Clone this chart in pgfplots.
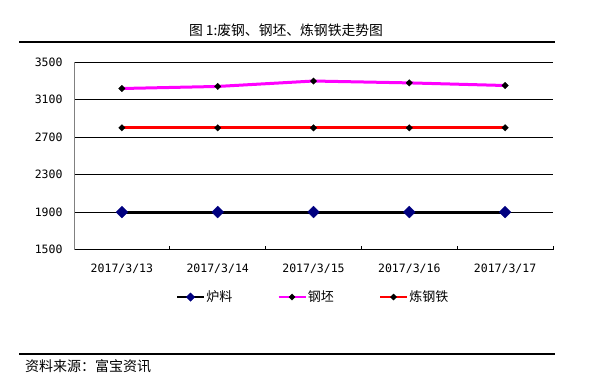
\documentclass[border=0pt]{standalone}
\usepackage{fontspec}
\usepackage{pgfplots}
\pgfplotsset{compat=1.18}
\setmainfont{DejaVu Sans Mono}
\newfontfamily\cjk{Noto Sans CJK SC}
\newfontfamily\mono{DejaVu Sans Mono}
\definecolor{navyd}{RGB}{0,0,128}
\definecolor{pinkm}{RGB}{255,0,255}
\definecolor{redr}{RGB}{255,0,0}
\begin{document}
\begin{tikzpicture}[x=1bp,y=1bp]
\path (0,0) rectangle (594,383);
\draw[line width=1.1bp] (19,341) -- (555,341);
\draw[line width=1.1bp] (19,29) -- (555,29);
\node[font=\cjk\fontsize{13.8bp}{16bp}\selectfont] at (286,353) {图 1:废钢、钢坯、炼钢铁走势图};
\node[anchor=west, inner sep=0pt, font=\cjk\fontsize{14bp}{16bp}\selectfont] at (25,17) {资料来源：富宝资讯};
\begin{axis}[
  at={(74bp,133.5bp)}, anchor=south west,
  scale only axis, width=479bp, height=187.2bp,
  xmin=-0.5, xmax=4.5, ymin=1500, ymax=3500,
  ytick={1500,1900,...,3500},
  xtick={0,...,4},
  xticklabels={2017/3/13,2017/3/14,2017/3/15,2017/3/16,2017/3/17},
  minor xtick={-0.5,0.5,...,4.5},
  axis x line*=bottom, axis y line*=left,
  axis line style={-},
  x axis line style={black, line width=0.9bp},
  y axis line style={gray, line width=0.9bp},
  ymajorgrids, grid style={black, line width=0.9bp},
  tick align=inside,
  major tick length=0pt,
  minor tick length=4bp,
  minor tick style={black, line width=0.8bp},
  /pgf/number format/assume math mode=true,
  /pgf/number format/1000 sep={},
  ticklabel style={font=\mono\fontsize{11.5bp}{13bp}\selectfont},
  xticklabel style={yshift=-11bp},
  yticklabel style={xshift=-8bp},
  clip=false,
  legend image code/.code={
    \draw[mark repeat=2,mark phase=2,#1] plot coordinates {(0bp,0bp) (13.5bp,0bp) (27bp,0bp)};},
  legend style={at={(0.499,-0.254)}, anchor=center, draw=none, fill=none,
    legend columns=3,
    /tikz/every even column/.append style={column sep=44bp},
    nodes={inner sep=1.5bp},
    font=\cjk\fontsize{13bp}{15bp}\selectfont},
]
\addplot[black, line width=3bp, mark=square*, mark size=4.2bp,
  mark options={rotate=45, fill=navyd, draw=navyd, line width=0.3bp},
  legend image post style={line width=1.5bp, mark size=3bp}]
  coordinates {(0,1900)(1,1900)(2,1900)(3,1900)(4,1900)};
\addlegendentry{炉料}
\addplot[pinkm, line width=3bp, mark=square*, mark size=2.3bp,
  mark options={rotate=45, fill=black, draw=black, line width=0.3bp},
  legend image post style={line width=1.5bp, mark size=2.2bp}]
  coordinates {(0,3220)(1,3242)(2,3300)(3,3280)(4,3252)};
\addlegendentry{钢坯}
\addplot[redr, line width=3bp, mark=square*, mark size=2.3bp,
  mark options={rotate=45, fill=black, draw=black, line width=0.3bp},
  legend image post style={line width=1.5bp, mark size=2.2bp}]
  coordinates {(0,2800)(1,2800)(2,2800)(3,2800)(4,2800)};
\addlegendentry{炼钢铁}
\end{axis}
\end{tikzpicture}
\end{document}
